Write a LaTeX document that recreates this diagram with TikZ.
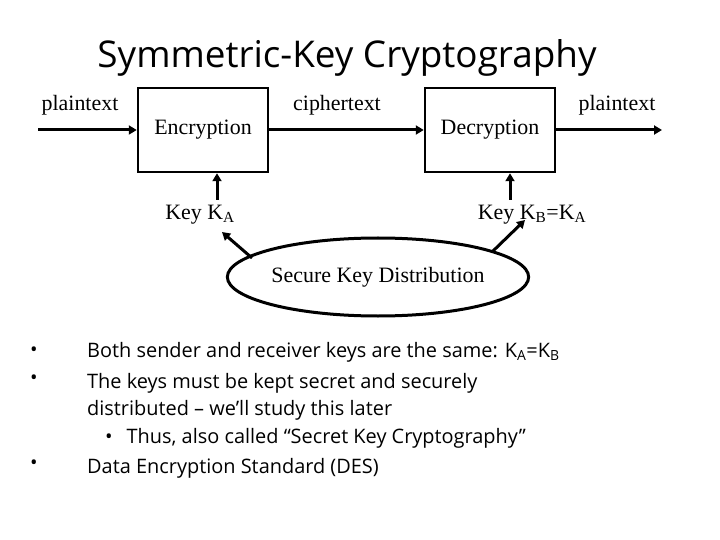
\documentclass[tikz,border=0pt]{standalone}
\usepackage{fontspec}
\setmainfont{Liberation Serif}
\newfontfamily\comic{Open Sans}
\usetikzlibrary{arrows.meta,shapes.geometric}
\begin{document}
\begin{tikzpicture}[x=1bp,y=-1bp,
  box/.style={draw,line width=2.5bp,minimum width=130bp,minimum height=84bp,font=\fontsize{22}{24}\selectfont},
  lbl/.style={font=\fontsize{22}{24}\selectfont,inner sep=0},
  arr/.style={line width=3bp,-{Triangle[length=8bp,width=9bp]}},
  bul/.style={font=\comic\fontsize{20}{22}\selectfont,anchor=west,inner sep=0}]
\useasboundingbox (0,0) rectangle (720,540);
\node[font=\comic\fontsize{37}{40}\selectfont] (title) at (347,58) {Symmetric-Key Cryptography};
\node[box] (enc) at (203,130) {Encryption};
\node[box] (dec) at (490,130) {Decryption};
\coordinate (pin) at (38,130);
\coordinate (pout) at (662,130);
\coordinate (ka0) at (217,200);
\coordinate (kb0) at (510,200);
\coordinate (e1) at (252,258);
\coordinate (e2) at (492,252);
\node[lbl] (pt1) at (80,105) {plaintext};
\node[lbl] (ct) at (337,105) {ciphertext};
\node[lbl] (pt2) at (617,105) {plaintext};
\draw[arr] (pin) -- (pin-|enc.west);
\draw[arr] (enc.east|-pin) -- (dec.west|-pin);
\draw[arr] (dec.east|-pin) -- (pout);
\node[lbl] (ka) at (200,215) {Key K\textsubscript{A}};
\node[lbl] (kb) at (532,215) {Key K\textsubscript{B}=K\textsubscript{A}};
\draw[arr] (ka0) -- (ka0|-enc.south);
\draw[arr] (kb0) -- (kb0|-dec.south);
\node[draw,ellipse,line width=3bp,minimum width=290bp,minimum height=78bp,lbl] (sk) at (378,277) {Secure Key Distribution};
\draw[arr] (e1) -- (222,232);
\draw[arr] (e2) -- (525,220);
\foreach \y in {352,380,465} \node[bul] at (30,\y) {•};
\node[bul] (b1) at (87,352) {Both sender and receiver keys are the same: K\textsubscript{A}=K\textsubscript{B}};
\node[bul] (b2) at (87,383) {The keys must be kept secret and securely};
\node[bul] (b3) at (87,410) {distributed – we’ll study this later};
\node[bul] (b4) at (87,438) {\hspace{18bp}•\hspace{14bp}Thus, also called “Secret Key Cryptography”};
\node[bul] (b5) at (87,468) {Data Encryption Standard (DES)};
\end{tikzpicture}
\end{document}
